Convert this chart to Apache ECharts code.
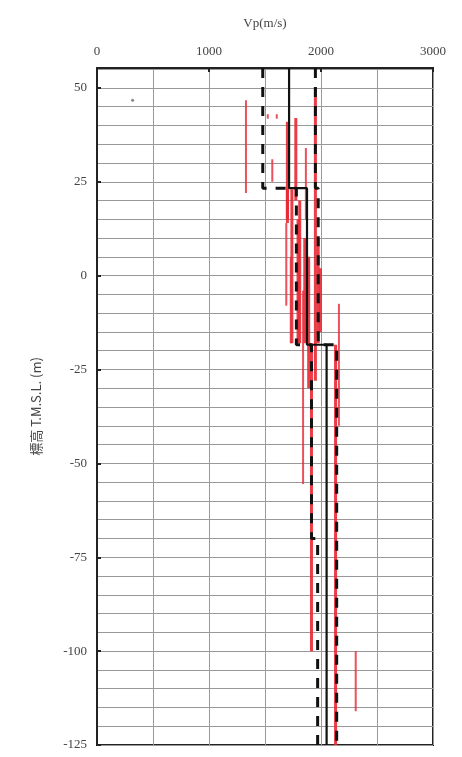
<!DOCTYPE html>
<html>
<head>
<meta charset="utf-8">
<script src="https://cdn.jsdelivr.net/npm/echarts@6/dist/echarts.min.js"></script>
<style>
  html, body { margin: 0; padding: 0; background: #fff; }
  #chart { width: 462px; height: 757px; }
</style>
</head>
<body>
<div id="chart"></div>
<script>
// Depth range (elevation, m) and velocity range (m/s)
const elevMin = -125;
const elevMax = 55.3;
const vpMin = 0;
const vpMax = 3000;

// Layer boundaries of the interpreted velocity profile (elevation, m)
const meanBounds = [55.3, 23.3, -18.4, -125];
const meanVp = [1715, 1875, 2050];

const upperBounds = [55.3, 23.3, -18.4, -125];
const upperVp = [1950, 1975, 2140];

const lowerBounds = [55.3, 23.3, -18.4, -70, -125];
const lowerVp = [1480, 1780, 1915, 1970];

// Measured velocity intervals: velocity, top elevation, bottom elevation
const logThickVp  = [1700, 1775, 1950, 2130, 1915, 1810, 1855, 1890, 1975, 1700, 1740, 1795, 1995];
const logThickTop = [41, 42, 50, -18.4, -18, 20, 10, 5, 10, 23, 23, 15, 2];
const logThickBot = [14, 20, -28, -125, -100, -18, -18, -30, -18, 15, -18, -18, -15];

const logThinVp  = [1330, 1565, 1690, 1865, 1840, 2160, 2310, 1730, 1525, 1605];
const logThinTop = [46.7, 31, 14, 34, -4, -7.5, -100, 5, 43, 43];
const logThinBot = [22, 25, -8, 15, -55.5, -40, -116, -18, 41.8, 41.8];

// Isolated reading near the surface
const pointVp = [318];
const pointElev = [46.7];

function stepPath(bounds, vps) {
  const pts = [];
  for (let i = 0; i < vps.length; i++) {
    pts.push([vps[i], bounds[i]]);
    pts.push([vps[i], bounds[i + 1]]);
  }
  return pts;
}

function segmentSeries(vps, tops, bots, width, color) {
  return vps.map((v, i) => ({
    type: 'line',
    xAxisIndex: 0, yAxisIndex: 0,
    data: [[v, tops[i]], [v, bots[i]]],
    symbol: 'none',
    silent: true,
    z: 3,
    lineStyle: { color: color, width: width }
  }));
}

const serif = '"Liberation Serif", "DejaVu Serif", serif';
const textColor = '#444';

const chart = echarts.init(document.getElementById('chart'), null, { renderer: 'canvas' });

const series = []
  .concat(segmentSeries(logThickVp, logThickTop, logThickBot, 3, 'rgba(232,40,52,0.9)'))
  .concat(segmentSeries(logThinVp, logThinTop, logThinBot, 2, 'rgba(232,50,64,0.85)'))
  .concat([
    {
      type: 'line', xAxisIndex: 0, yAxisIndex: 0,
      data: stepPath(lowerBounds, lowerVp),
      symbol: 'none', silent: true, z: 5,
      lineStyle: { color: '#111', width: 3, type: [10, 9] }
    },
    {
      type: 'line', xAxisIndex: 0, yAxisIndex: 0,
      data: stepPath(upperBounds, upperVp),
      symbol: 'none', silent: true, z: 5,
      lineStyle: { color: '#111', width: 3, type: [10, 9] }
    },
    {
      type: 'line', xAxisIndex: 0, yAxisIndex: 0,
      data: stepPath(meanBounds, meanVp),
      symbol: 'none', silent: true, z: 6,
      lineStyle: { color: '#111', width: 2.2 }
    },
    {
      type: 'scatter', xAxisIndex: 0, yAxisIndex: 0,
      data: pointVp.map((v, i) => [v, pointElev[i]]),
      symbol: 'circle', symbolSize: 3, silent: true, z: 6,
      itemStyle: { color: '#666' }
    }
  ]);

chart.setOption({
  animation: false,
  backgroundColor: '#fff',
  grid: {
    left: 97, right: 29, top: 68, bottom: 12,
    show: true, borderColor: '#222', borderWidth: 2, backgroundColor: 'transparent'
  },
  xAxis: [
    {
      // grid lines every 500 m/s
      type: 'value', position: 'top', min: vpMin, max: vpMax, interval: 500,
      axisLine: { show: false, onZero: false }, axisTick: { show: false }, axisLabel: { show: false },
      splitLine: { show: true, lineStyle: { color: '#999', width: 1 } }
    },
    {
      // labelled scale every 1000 m/s
      type: 'value', position: 'top', min: vpMin, max: vpMax, interval: 1000,
      name: 'Vp(m/s)', nameLocation: 'middle', nameGap: 38,
      nameTextStyle: { fontFamily: serif, fontSize: 13, color: textColor },
      axisLine: { show: true, onZero: false, lineStyle: { color: '#222', width: 2 } },
      axisTick: { show: true, inside: true, length: 4, lineStyle: { color: '#222', width: 2 } },
      axisLabel: { show: true, margin: 10, fontFamily: serif, fontSize: 13, color: textColor,
        formatter: v => String(v) },
      splitLine: { show: false }
    }
  ],
  yAxis: [
    {
      // grid lines every 5 m
      type: 'value', min: elevMin, max: elevMax, interval: 5,
      axisLine: { show: false, onZero: false }, axisTick: { show: false }, axisLabel: { show: false },
      splitLine: { show: true, lineStyle: { color: '#999', width: 1 } }
    },
    {
      // labelled scale every 25 m
      type: 'value', position: 'left', min: elevMin, max: elevMax, interval: 25,
      name: '標高 T.M.S.L. (m)', nameLocation: 'middle', nameGap: 54, nameRotate: 90,
      nameTextStyle: { fontFamily: '"Noto Sans CJK JP", sans-serif', fontSize: 13, color: textColor },
      axisLine: { show: true, onZero: false, lineStyle: { color: '#222', width: 2 } },
      axisTick: { show: true, inside: true, length: 4, lineStyle: { color: '#222', width: 2 } },
      axisLabel: {
        show: true, margin: 10, fontFamily: serif, fontSize: 13, color: textColor,
        formatter: v => (Math.abs(v % 25) < 1e-6 ? String(v) : '')
      },
      splitLine: { show: false }
    }
  ],
  series: series
});
</script>
</body>
</html>
